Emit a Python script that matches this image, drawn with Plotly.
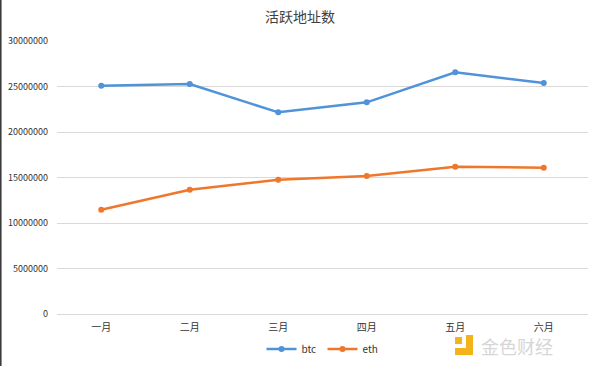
import plotly.graph_objects as go

months = ["一月", "二月", "三月", "四月", "五月", "六月"]
btc = [25070000, 25270000, 22160000, 23260000, 26560000, 25380000]
eth = [11460000, 13660000, 14760000, 15160000, 16190000, 16080000]
y_ticks = [0, 5000000, 10000000, 15000000, 20000000, 25000000, 30000000]

font_cjk = "Noto Sans CJK SC, Noto Sans, sans-serif"
blue = "#4F93D8"
orange = "#EF772B"

# plot-area geometry in pixels (for decorations only)
L, R, T, B = 57, 588, 41, 314
def px(x):
    return (x - L) / (R - L)
def py(y):
    return (B - y) / (B - T)

fig = go.Figure()
fig.add_trace(go.Scatter(x=months, y=btc, name="btc", mode="lines+markers",
                         line=dict(color=blue, width=2.5),
                         marker=dict(color=blue, size=6)))
fig.add_trace(go.Scatter(x=months, y=eth, name="eth", mode="lines+markers",
                         line=dict(color=orange, width=2.5),
                         marker=dict(color=orange, size=6)))

fig.update_layout(
    width=600, height=366,
    margin=dict(l=L, r=600 - R, t=T, b=366 - B, autoexpand=False),
    paper_bgcolor="white", plot_bgcolor="white",
    title=dict(text="活跃地址数", x=0.5, xanchor="center", y=1 - 17 / 366, yanchor="middle",
               font=dict(family=font_cjk, size=14, color="#404040")),
    font=dict(family=font_cjk, size=10, color="#333333"),
    showlegend=True,
    legend=dict(orientation="h", x=0.5, xanchor="center", y=py(349), yanchor="middle",
                font=dict(size=10, color="#333333"), itemwidth=30, entrywidth=16,
                bgcolor="rgba(0,0,0,0)"),
    xaxis=dict(type="category", range=[-0.5, 5.5], showgrid=False, showline=False,
               ticks="", automargin=False, ticklabelstandoff=6,
               tickfont=dict(size=10, color="#333333")),
    yaxis=dict(range=[0, 30000000], tickvals=y_ticks, automargin=False,
               ticktext=[str(v) for v in y_ticks], showgrid=True, gridcolor="#d9d9d9",
               gridwidth=1, zeroline=True, zerolinecolor="#d9d9d9", zerolinewidth=1,
               showline=False, ticks="", ticklabelstandoff=8,
               tickfont=dict(size=9, color="#333333")),
)

# watermark
fig.add_annotation(text="金色财经", xref="paper", yref="paper", x=px(479), y=py(346),
                   xanchor="left", yanchor="middle", showarrow=False,
                   font=dict(family=font_cjk, size=18, color="#d6d6d6"))
for x0, x1, y0, y1 in [(455, 462, 337, 344), (466, 473, 335, 355), (455, 473, 348, 355)]:
    fig.add_shape(type="rect", xref="paper", yref="paper", x0=px(x0), x1=px(x1),
                  y0=py(y1), y1=py(y0), fillcolor="#F5B31B", line=dict(width=0))

# left frame edge
fig.add_shape(type="line", xref="paper", yref="paper", x0=px(0.8), x1=px(0.8),
              y0=py(366), y1=py(0), line=dict(color="#333333", width=1.5))

fig.write_html("out.html", config={"displayModeBar": False},
               post_script="document.body.style.margin='0px';document.body.style.overflow='hidden';")
